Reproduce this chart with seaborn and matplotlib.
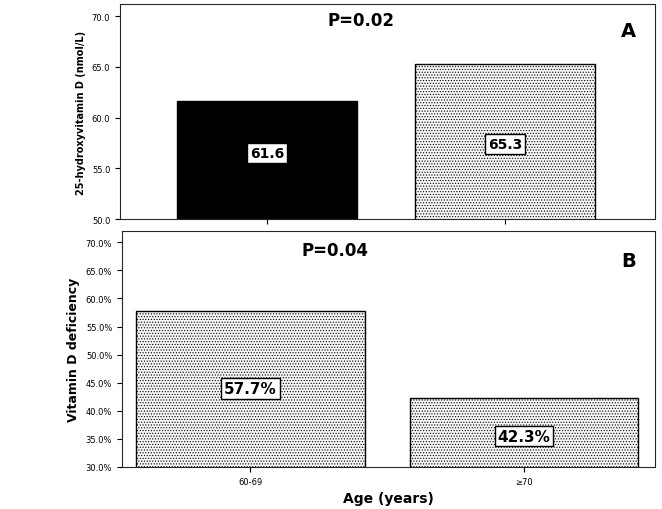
import matplotlib
matplotlib.use("Agg")
import matplotlib.pyplot as plt
import seaborn as sns
import pandas as pd
from matplotlib.ticker import FuncFormatter

groups = ["60-69", "≥70"]
vitd_levels = [61.6, 65.3]
deficiency = [57.7, 42.3]
labels_a = ["61.6", "65.3"]
labels_b = ["57.7%", "42.3%"]

sns.set_style("ticks")
plt.rcParams['font.family'] = ['DejaVu Sans']
plt.rcParams['hatch.color'] = '#aaaaaa'
plt.rcParams['hatch.linewidth'] = 0.5
plt.rcParams['text.color'] = 'black'
plt.rcParams['axes.labelcolor'] = 'black'
plt.rcParams['xtick.color'] = 'black'
plt.rcParams['ytick.color'] = 'black'

fig = plt.figure(figsize=(6.62, 5.10), dpi=100)
axA = fig.add_axes([120/662, 1-220/510, 535/662, 215/510])
axB = fig.add_axes([122/662, 1-468/510, 533/662, 236/510])

dfA = pd.DataFrame({"g": groups, "v": vitd_levels})
dfB = pd.DataFrame({"g": groups, "v": deficiency})

sns.barplot(data=dfA, x="g", y="v", ax=axA, width=0.756, edgecolor="black", linewidth=1)
sns.barplot(data=dfB, x="g", y="v", ax=axB, width=0.835, edgecolor="black", linewidth=1)

for i, p in enumerate(axA.patches):
    if i == 0:
        p.set_facecolor("black")
    else:
        p.set_facecolor("#f6f6f6"); p.set_hatch("......")
for p in axB.patches:
    p.set_facecolor("#f6f6f6"); p.set_hatch("......")

axA.set_xlim(-0.618, 1.63)
axA.set_ylim(50, 71.2)
axA.set_yticks([50, 55, 60, 65, 70])
axA.yaxis.set_major_formatter(FuncFormatter(lambda v, _: f"{v:.1f}"))
axA.set_xticks([0, 1]); axA.set_xticklabels([])
axA.set_xlabel(""); axA.set_ylabel("25-hydroxyvitamin D (nmol/L)", fontsize=7, fontweight="bold")
axA.tick_params(labelsize=6)
axA.text(0, 56.5, labels_a[0], ha="center", va="center", fontsize=10, fontweight="bold",
         bbox=dict(facecolor="white", edgecolor="black", pad=2))
axA.text(1, 57.4, labels_a[1], ha="center", va="center", fontsize=10, fontweight="bold",
         bbox=dict(facecolor="white", edgecolor="black", pad=2))
axA.text(0.45, 0.9, "P=0.02", transform=axA.transAxes, ha="center", fontsize=12, fontweight="bold")
axA.text(0.95, 0.85, "A", transform=axA.transAxes, ha="center", fontsize=14, fontweight="bold")

axB.set_xlim(-0.47, 1.48)
axB.set_ylim(30, 72)
axB.set_yticks(range(30, 71, 5))
axB.yaxis.set_major_formatter(FuncFormatter(lambda v, _: f"{v:.1f}%"))
axB.set_xticks([0, 1]); axB.set_xticklabels(groups)
axB.tick_params(labelsize=6)
axB.set_xlabel("Age (years)", fontsize=10, fontweight="bold")
axB.set_ylabel("Vitamin D deficiency", fontsize=9, fontweight="bold")
axB.text(0, 44, labels_b[0], ha="center", va="center", fontsize=11, fontweight="bold",
         bbox=dict(facecolor="white", edgecolor="black", pad=2))
axB.text(1, 35.5, labels_b[1], ha="center", va="center", fontsize=11, fontweight="bold",
         bbox=dict(facecolor="white", edgecolor="black", pad=2))
axB.text(0.4, 0.9, "P=0.04", transform=axB.transAxes, ha="center", fontsize=12, fontweight="bold")
axB.text(0.95, 0.85, "B", transform=axB.transAxes, ha="center", fontsize=14, fontweight="bold")

fig.savefig("out.png", dpi=100)
